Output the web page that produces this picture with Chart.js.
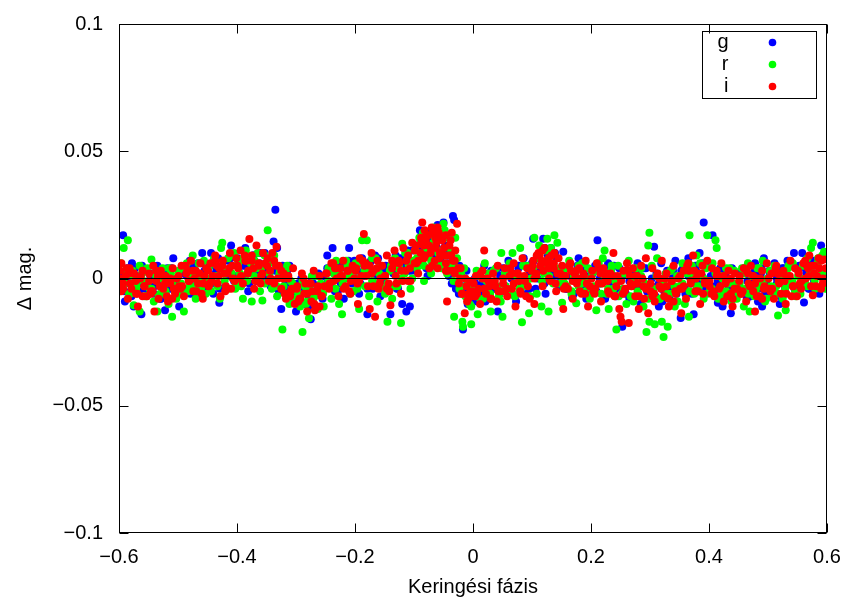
<!DOCTYPE html>
<html>
<head>
<meta charset="utf-8">
<script src="https://cdn.jsdelivr.net/npm/chart.js@4.4.1/dist/chart.umd.min.js"></script>
<style>
  html, body { margin: 0; padding: 0; background: #fff; }
  #wrap { width: 846px; height: 598px; }
</style>
</head>
<body>
<div id="wrap"><canvas id="phaseChart" width="846" height="598"></canvas></div>
<script>
// series names / colours (gnuplot style)
const seriesNames = ['g', 'r', 'i'];
const seriesColors = ['#0000ff', '#00ff00', '#ff0000'];

const xRange = [-0.6, 0.6];
const yRange = [-0.1, 0.1];
const xTickLabels = ['\u22120.6', '\u22120.4', '\u22120.2', '0', '0.2', '0.4', '0.6'];
const yTickLabels = ['\u22120.1', '\u22120.05', '0', '0.05', '0.1'];

// [phase, delta mag]: spread + outliers
const gPoints = [
  [-0.599,0.001],[-0.596,-0.003],[-0.593,0.017],[-0.590,-0.009],[-0.586,0.004],[-0.582,-0.002],[-0.578,0.006],[-0.575,-0.011],[-0.570,0.001],[-0.566,-0.005],[-0.562,-0.014],[-0.558,0.003],[-0.553,-0.002],
  [-0.549,-0.006],[-0.544,0.002],[-0.540,-0.003],[-0.535,0.005],[-0.530,-0.008],[-0.526,0.000],[-0.522,-0.0125],[-0.518,0.004],[-0.513,-0.004],[-0.508,0.008],[-0.504,-0.002],
  [-0.498,-0.011],[-0.494,0.002],[-0.489,-0.005],[-0.484,0.004],[-0.480,0.007],[-0.475,-0.003],[-0.470,0.001],[-0.466,0.006],[-0.461,-0.006],[-0.459,0.010],[-0.455,0.003],
  [-0.450,-0.002],[-0.446,0.005],[-0.444,0.010],[-0.440,-0.006],[-0.436,0.002],[-0.432,0.008],[-0.430,-0.0095],[-0.425,0.004],[-0.420,-0.003],[-0.415,0.007],[-0.410,0.013],[-0.405,0.001],
  [-0.399,0.008],[-0.395,-0.002],[-0.390,0.005],[-0.386,0.012],[-0.381,-0.005],[-0.376,0.003],[-0.372,0.009],[-0.367,-0.001],[-0.362,0.006],[-0.358,0.002],[-0.353,0.010],
  [-0.348,0.004],[-0.343,-0.003],[-0.338,0.0145],[-0.335,0.027],[-0.332,0.012],[-0.328,0.001],[-0.325,-0.012],[-0.320,-0.004],[-0.315,0.003],[-0.311,-0.008],[-0.306,-0.002],[-0.300,-0.013],
  [-0.296,-0.006],[-0.291,0.000],[-0.287,-0.010],[-0.282,-0.004],[-0.278,-0.008],[-0.275,-0.016],[-0.271,-0.002],[-0.266,-0.011],[-0.262,0.002],[-0.257,-0.006],[-0.253,0.001],
  [-0.248,-0.002],[-0.247,0.009],[-0.243,0.003],[-0.238,0.012],[-0.234,-0.005],[-0.229,0.005],[-0.224,-0.002],[-0.219,-0.008],[-0.215,0.004],[-0.210,0.012],[-0.205,0.000],[-0.201,0.007],
  [-0.197,0.003],[-0.193,-0.006],[-0.188,0.008],[-0.184,0.001],[-0.179,-0.014],[-0.175,0.006],[-0.170,-0.004],[-0.166,0.009],[-0.161,0.002],[-0.157,-0.007],[-0.152,0.004],
  [-0.148,0.005],[-0.144,-0.003],[-0.140,-0.014],[-0.135,0.002],[-0.131,0.009],[-0.127,-0.004],[-0.120,-0.010],[-0.117,0.006],[-0.113,-0.013],[-0.110,0.003],[-0.107,-0.011],[-0.103,0.011],
  [-0.098,0.003],[-0.094,0.012],[-0.090,0.019],[-0.086,0.006],[-0.082,0.014],[-0.077,0.001],[-0.073,0.010],[-0.069,0.016],[-0.065,0.005],[-0.061,0.012],[-0.057,0.008],[-0.053,0.018],
  [-0.050,0.022],[-0.047,0.013],[-0.043,0.006],[-0.039,0.010],[-0.036,-0.002],[-0.034,0.0246],[-0.032,0.023],[-0.028,0.004],[-0.024,-0.006],[-0.020,0.001],[-0.017,-0.020],[-0.013,-0.004],[-0.009,-0.010],[-0.005,-0.003],[-0.002,-0.008],
  [0.003,-0.002],[0.007,-0.009],[0.011,0.002],[0.015,-0.005],[0.019,0.005],[0.023,-0.001],[0.027,-0.008],[0.031,0.003],[0.036,-0.004],[0.042,-0.013],[0.046,0.001],
  [0.051,0.004],[0.055,-0.003],[0.060,0.007],[0.064,-0.006],[0.068,0.002],[0.073,-0.009],[0.077,0.005],[0.082,-0.002],[0.086,0.008],[0.091,-0.006],[0.096,0.002],
  [0.100,0.006],[0.102,0.0156],[0.106,-0.004],[0.110,0.009],[0.115,0.003],[0.119,0.0156],[0.123,-0.006],[0.128,0.007],[0.132,0.012],[0.137,0.001],[0.142,0.008],[0.146,-0.003],
  [0.151,0.003],[0.153,0.0105],[0.158,-0.004],[0.163,0.005],[0.168,-0.0075],[0.173,0.002],[0.179,0.008],[0.183,-0.003],[0.188,0.004],[0.192,-0.008],[0.197,0.001],
  [0.202,-0.004],[0.207,0.005],[0.211,0.015],[0.215,-0.002],[0.220,0.003],[0.224,-0.008],[0.229,0.006],[0.233,-0.003],[0.238,0.001],[0.243,-0.007],[0.248,0.004],[0.253,-0.019],
  [0.256,-0.005],[0.261,0.003],[0.265,-0.008],[0.270,0.001],[0.274,-0.003],[0.279,0.006],[0.284,-0.010],[0.288,-0.001],[0.293,0.004],[0.297,-0.006],[0.307,0.0125],
  [0.303,-0.003],[0.311,0.002],[0.315,-0.011],[0.319,0.006],[0.324,-0.005],[0.329,0.003],[0.333,-0.008],[0.338,0.000],[0.343,0.007],[0.347,-0.004],
  [0.352,-0.0155],[0.356,0.004],[0.360,-0.006],[0.365,0.008],[0.370,-0.002],[0.374,-0.014],[0.378,0.003],[0.382,-0.005],[0.384,0.010],[0.388,0.001],[0.391,0.022],[0.395,-0.004],
  [0.402,0.005],[0.406,0.017],[0.410,-0.003],[0.415,-0.0095],[0.419,0.004],[0.423,-0.011],[0.428,0.001],[0.432,-0.006],[0.437,-0.0137],[0.441,0.003],[0.446,-0.004],
  [0.451,0.002],[0.455,-0.005],[0.460,0.004],[0.464,-0.008],[0.469,0.000],[0.474,-0.003],[0.478,0.006],[0.483,-0.009],[0.488,0.002],[0.490,-0.011],[0.493,0.008],[0.497,-0.002],
  [0.502,0.003],[0.506,-0.007],[0.511,0.006],[0.515,-0.002],[0.520,-0.010],[0.524,0.004],[0.529,-0.004],[0.533,0.007],[0.538,-0.001],[0.544,0.010],[0.548,-0.006],
  [0.553,0.004],[0.558,0.010],[0.561,-0.0094],[0.565,0.002],[0.569,-0.004],[0.574,0.007],[0.578,-0.001],[0.583,0.005],[0.587,-0.006],[0.590,0.013],[0.594,0.002],[0.598,-0.003]
];
// dense core of the band
const gBand = [
  [-0.597,0.002],[-0.591,-0.005],[-0.585,0.000],[-0.579,-0.007],[-0.573,0.004],[-0.567,-0.002],[-0.561,0.005],[-0.555,-0.004],
  [-0.547,0.001],[-0.541,-0.006],[-0.535,-0.001],[-0.529,-0.008],[-0.523,0.003],[-0.517,-0.003],[-0.511,0.004],[-0.505,-0.005],
  [-0.497,0.003],[-0.491,-0.004],[-0.485,0.001],[-0.479,-0.006],[-0.473,0.005],[-0.467,-0.001],[-0.461,0.006],[-0.455,-0.003],
  [-0.447,0.005],[-0.441,-0.002],[-0.435,0.003],[-0.429,-0.004],[-0.423,0.007],[-0.417,0.001],[-0.411,0.008],[-0.405,-0.001],
  [-0.397,0.007],[-0.391,0.000],[-0.385,0.005],[-0.379,-0.002],[-0.373,0.009],[-0.367,0.003],[-0.361,0.010],[-0.355,0.001],
  [-0.347,0.007],[-0.341,-0.001],[-0.335,0.003],[-0.329,-0.005],[-0.323,0.005],[-0.317,-0.002],[-0.311,0.005],[-0.305,-0.005],
  [-0.297,-0.002],[-0.291,-0.009],[-0.285,-0.004],[-0.279,-0.011],[-0.273,0.000],[-0.267,-0.006],[-0.261,0.001],[-0.255,-0.008],
  [-0.247,0.004],[-0.241,-0.003],[-0.235,0.002],[-0.229,-0.005],[-0.223,0.006],[-0.217,0.000],[-0.211,0.007],[-0.205,-0.002],
  [-0.197,0.005],[-0.191,-0.002],[-0.185,0.003],[-0.179,-0.004],[-0.173,0.007],[-0.167,0.001],[-0.161,0.008],[-0.155,-0.001],
  [-0.147,0.003],[-0.141,-0.003],[-0.135,0.003],[-0.129,-0.004],[-0.123,0.008],[-0.117,0.003],[-0.111,0.011],[-0.105,0.003],
  [-0.097,0.013],[-0.091,0.006],[-0.085,0.011],[-0.079,0.018],[-0.079,0.004],[-0.073,0.015],[-0.067,0.009],[-0.061,0.016],[-0.060,0.021],[-0.055,0.007],
  [-0.047,0.010],[-0.044,0.017],[-0.041,0.001],[-0.035,0.005],[-0.029,-0.004],[-0.023,0.005],[-0.017,-0.003],[-0.011,0.003],[-0.005,-0.008],
  [0.003,0.000],[0.009,-0.007],[0.015,-0.002],[0.021,-0.009],[0.027,0.002],[0.033,-0.004],[0.039,0.003],[0.045,-0.006],
  [0.053,0.002],[0.059,-0.005],[0.065,0.000],[0.071,-0.007],[0.077,0.004],[0.083,-0.002],[0.089,0.005],[0.095,-0.004],
  [0.103,0.007],[0.109,0.000],[0.115,0.005],[0.121,-0.002],[0.122,0.012],[0.127,0.009],[0.133,0.003],[0.139,0.010],[0.145,0.001],
  [0.153,0.003],[0.159,-0.004],[0.165,0.001],[0.171,-0.006],[0.177,0.005],[0.183,-0.001],[0.189,0.006],[0.195,-0.003],
  [0.203,0.002],[0.209,-0.005],[0.215,0.000],[0.221,-0.007],[0.227,0.004],[0.233,-0.002],[0.239,0.005],[0.245,-0.004],
  [0.253,0.001],[0.259,-0.006],[0.265,-0.001],[0.271,-0.008],[0.277,0.003],[0.283,-0.003],[0.289,0.004],[0.295,-0.005],
  [0.303,0.000],[0.309,-0.007],[0.315,-0.002],[0.321,-0.009],[0.327,0.002],[0.333,-0.004],[0.339,0.003],[0.345,-0.006],
  [0.353,0.003],[0.359,-0.004],[0.365,0.001],[0.371,-0.006],[0.377,0.005],[0.383,-0.001],[0.389,0.006],[0.395,-0.003],
  [0.403,0.001],[0.409,-0.006],[0.415,-0.001],[0.421,-0.008],[0.427,0.003],[0.433,-0.003],[0.439,0.004],[0.445,-0.005],
  [0.453,0.002],[0.459,-0.005],[0.465,-0.001],[0.471,-0.007],[0.477,0.003],[0.483,-0.004],[0.489,0.004],[0.495,-0.006],
  [0.503,0.002],[0.509,-0.005],[0.515,0.000],[0.521,-0.007],[0.527,0.004],[0.533,-0.002],[0.539,0.005],[0.545,-0.004],
  [0.553,0.005],[0.559,-0.002],[0.565,0.003],[0.571,-0.004],[0.577,0.007],[0.583,0.001],[0.589,0.008],[0.595,-0.001]
];

const rPoints = [
  [-0.597,0.006],[-0.592,0.012],[-0.590,-0.002],[-0.585,0.015],[-0.581,-0.006],[-0.577,0.003],[-0.575,-0.0105],[-0.570,-0.003],[-0.565,-0.013],[-0.561,0.002],[-0.556,-0.007],[-0.552,0.004],
  [-0.548,-0.004],[-0.545,0.0075],[-0.541,-0.009],[-0.537,0.001],[-0.535,-0.013],[-0.530,-0.006],[-0.526,0.004],[-0.521,-0.002],[-0.516,-0.010],[-0.512,0.002],[-0.510,-0.015],[-0.505,-0.005],
  [-0.499,0.003],[-0.494,-0.006],[-0.490,-0.013],[-0.485,0.006],[-0.480,-0.003],[-0.475,0.009],[-0.470,-0.008],[-0.466,0.002],[-0.461,-0.004],[-0.456,0.007],[-0.452,-0.001],
  [-0.448,0.004],[-0.444,-0.005],[-0.439,0.008],[-0.434,0.001],[-0.429,-0.008],[-0.427,0.012],[-0.425,0.014],[-0.420,0.003],[-0.415,-0.004],[-0.410,0.009],[-0.405,0.010],[-0.402,-0.002],
  [-0.398,0.006],[-0.393,-0.003],[-0.390,-0.008],[-0.385,0.011],[-0.380,0.002],[-0.375,-0.009],[-0.370,0.007],[-0.366,0.004],[-0.361,-0.005],[-0.357,-0.0086],[-0.353,0.009],
  [-0.348,0.019],[-0.346,0.006],[-0.341,-0.004],[-0.337,0.009],[-0.332,-0.007],[-0.328,0.002],[-0.323,-0.020],[-0.319,-0.006],[-0.315,0.004],[-0.311,-0.010],[-0.306,-0.002],[-0.302,-0.008],
  [-0.298,-0.005],[-0.293,-0.011],[-0.289,-0.021],[-0.285,-0.003],[-0.281,-0.009],[-0.278,-0.0156],[-0.273,0.001],[-0.268,-0.007],[-0.263,-0.012],[-0.258,-0.002],[-0.254,-0.006],
  [-0.249,-0.003],[-0.245,0.004],[-0.240,-0.008],[-0.236,0.002],[-0.232,0.007],[-0.227,-0.010],[-0.222,-0.014],[-0.218,0.000],[-0.213,0.005],[-0.208,-0.006],[-0.203,0.003],
  [-0.199,0.006],[-0.196,-0.004],[-0.193,-0.012],[-0.188,0.015],[-0.184,0.003],[-0.180,0.015],[-0.176,-0.007],[-0.171,0.008],[-0.167,-0.002],[-0.162,-0.009],[-0.158,0.005],[-0.153,0.001],
  [-0.149,-0.006],[-0.145,-0.017],[-0.141,0.003],[-0.137,-0.008],[-0.132,0.008],[-0.128,-0.003],[-0.125,0.005],[-0.122,-0.0175],[-0.120,0.0137],[-0.116,0.002],[-0.111,0.010],[-0.106,-0.004],[-0.102,0.007],
  [-0.098,0.011],[-0.095,0.004],[-0.091,0.016],[-0.087,0.007],[-0.083,-0.001],[-0.079,0.012],[-0.075,0.009],[-0.071,0.002],[-0.067,0.014],[-0.063,0.006],[-0.059,0.011],[-0.055,0.017],[-0.052,0.005],
  [-0.050,0.0215],[-0.047,0.009],[-0.044,0.002],[-0.040,0.012],[-0.036,0.005],[-0.032,-0.015],[-0.030,0.016],[-0.027,0.008],[-0.023,-0.004],[-0.020,0.002],[-0.018,-0.017],[-0.017,-0.019],[-0.013,-0.007],[-0.009,-0.002],[-0.006,-0.010],[-0.003,-0.018],
  [0.002,-0.004],[0.006,0.003],[0.008,-0.014],[0.012,-0.008],[0.016,0.000],[0.020,0.006],[0.024,-0.005],[0.027,0.002],[0.030,-0.013],[0.035,-0.002],[0.039,0.004],[0.044,-0.007],[0.048,0.010],
  [0.050,-0.015],[0.054,0.002],[0.058,-0.004],[0.062,0.006],[0.067,0.010],[0.071,-0.007],[0.075,0.001],[0.080,0.012],[0.083,-0.0172],[0.087,-0.003],[0.091,0.005],[0.095,-0.0137],[0.098,0.000],
  [0.102,0.004],[0.104,0.016],[0.108,-0.006],[0.112,0.009],[0.116,-0.011],[0.120,0.002],[0.123,0.011],[0.126,0.0156],[0.128,-0.013],[0.132,0.006],[0.136,-0.002],[0.138,0.017],[0.143,0.014],[0.147,0.003],
  [0.151,-0.0095],[0.155,0.004],[0.159,-0.003],[0.163,0.007],[0.167,-0.006],[0.171,0.001],[0.175,-0.0097],[0.179,0.005],[0.183,-0.002],[0.187,0.006],[0.191,-0.005],[0.195,0.004],[0.198,-0.008],
  [0.202,0.002],[0.206,-0.005],[0.209,-0.0125],[0.213,0.006],[0.217,-0.002],[0.220,0.008],[0.223,0.011],[0.227,-0.006],[0.230,-0.012],[0.234,0.003],[0.238,-0.004],[0.243,-0.020],[0.246,0.005],
  [0.252,-0.006],[0.256,0.002],[0.260,-0.010],[0.264,0.007],[0.268,-0.003],[0.272,-0.009],[0.276,0.004],[0.280,-0.006],[0.285,0.001],[0.289,-0.011],[0.294,-0.021],[0.297,0.013],[0.299,0.018],[0.299,-0.017],
  [0.303,0.005],[0.306,-0.004],[0.308,-0.018],[0.312,0.008],[0.316,-0.008],[0.320,-0.017],[0.323,-0.023],[0.327,0.002],[0.330,-0.019],[0.334,-0.006],[0.338,0.004],[0.342,-0.011],[0.346,0.001],
  [0.351,-0.003],[0.355,0.006],[0.359,-0.010],[0.363,0.002],[0.366,-0.015],[0.367,0.017],[0.371,0.005],[0.375,-0.006],[0.379,0.009],[0.383,-0.003],[0.387,0.001],[0.391,-0.008],[0.395,0.004],[0.397,0.017],
  [0.402,-0.004],[0.406,0.006],[0.411,0.015],[0.413,0.012],[0.416,-0.008],[0.420,0.001],[0.425,-0.006],[0.429,0.004],[0.433,-0.002],[0.438,-0.009],[0.443,0.003],[0.447,-0.005],
  [0.452,-0.002],[0.456,0.004],[0.459,-0.011],[0.463,-0.004],[0.466,0.006],[0.469,-0.013],[0.473,0.001],[0.477,-0.007],[0.482,0.004],[0.486,-0.003],[0.491,0.007],[0.495,-0.009],[0.499,0.000],
  [0.503,0.003],[0.507,-0.006],[0.511,0.005],[0.514,-0.003],[0.517,-0.0145],[0.521,0.002],[0.525,-0.008],[0.530,-0.0125],[0.534,0.004],[0.538,-0.002],[0.542,0.006],[0.546,-0.005],
  [0.551,0.001],[0.555,-0.006],[0.559,0.005],[0.563,-0.002],[0.567,0.008],[0.571,0.003],[0.573,0.012],[0.576,0.014],[0.580,-0.004],[0.584,0.006],[0.588,0.001],[0.592,0.009],[0.595,0.0105],[0.598,0.003]
];
const rBand = [
  [-0.595,-0.003],[-0.589,0.003],[-0.583,-0.006],[-0.577,0.001],[-0.571,-0.004],[-0.565,0.005],[-0.559,-0.001],[-0.553,-0.007],
  [-0.545,-0.004],[-0.539,0.002],[-0.533,-0.007],[-0.527,0.000],[-0.521,-0.005],[-0.515,0.004],[-0.509,-0.002],[-0.503,-0.008],
  [-0.495,-0.002],[-0.489,0.004],[-0.483,-0.005],[-0.477,0.002],[-0.471,-0.003],[-0.465,0.006],[-0.459,0.000],[-0.453,-0.006],
  [-0.445,0.000],[-0.439,0.006],[-0.433,-0.003],[-0.427,0.004],[-0.421,-0.001],[-0.415,0.008],[-0.409,0.002],[-0.403,-0.004],
  [-0.395,0.002],[-0.389,0.008],[-0.383,-0.001],[-0.377,0.006],[-0.371,0.001],[-0.365,0.010],[-0.359,0.004],[-0.353,-0.002],
  [-0.345,0.002],[-0.339,0.007],[-0.333,-0.003],[-0.327,0.003],[-0.321,-0.003],[-0.315,0.005],[-0.309,-0.001],[-0.303,-0.008],
  [-0.295,-0.007],[-0.289,-0.001],[-0.283,-0.010],[-0.277,-0.003],[-0.271,-0.008],[-0.265,0.001],[-0.259,-0.005],[-0.253,-0.011],
  [-0.245,-0.001],[-0.239,0.005],[-0.233,-0.004],[-0.227,0.003],[-0.221,-0.002],[-0.215,0.007],[-0.209,0.001],[-0.203,-0.005],
  [-0.195,0.000],[-0.189,0.006],[-0.183,-0.003],[-0.177,0.004],[-0.171,-0.001],[-0.165,0.008],[-0.159,0.002],[-0.153,-0.004],
  [-0.145,-0.002],[-0.139,0.005],[-0.133,-0.003],[-0.127,0.004],[-0.121,0.000],[-0.115,0.010],[-0.109,0.005],[-0.103,0.000],
  [-0.095,0.008],[-0.089,0.014],[-0.085,0.018],[-0.083,0.005],[-0.077,0.012],[-0.071,0.007],[-0.066,0.020],[-0.065,0.016],[-0.059,0.010],[-0.053,0.004],
  [-0.048,0.019],[-0.045,0.005],[-0.042,0.016],[-0.039,0.009],[-0.033,-0.001],[-0.027,0.004],[-0.021,-0.003],[-0.015,0.004],[-0.009,-0.003],[-0.003,-0.011],
  [0.005,-0.005],[0.011,0.001],[0.017,-0.008],[0.023,-0.001],[0.029,-0.006],[0.035,0.003],[0.041,-0.003],[0.047,-0.009],
  [0.055,-0.003],[0.061,0.003],[0.067,-0.006],[0.073,0.001],[0.079,-0.004],[0.085,0.005],[0.091,-0.001],[0.097,-0.007],
  [0.105,0.002],[0.111,0.008],[0.112,0.013],[0.117,-0.001],[0.123,0.006],[0.129,0.001],[0.132,0.012],[0.135,0.010],[0.141,0.004],[0.147,-0.002],
  [0.155,-0.002],[0.161,0.004],[0.167,-0.005],[0.173,0.002],[0.179,-0.003],[0.185,0.006],[0.191,0.000],[0.197,-0.006],
  [0.205,-0.003],[0.211,0.003],[0.217,-0.006],[0.223,0.001],[0.229,-0.004],[0.235,0.005],[0.241,-0.001],[0.247,-0.007],
  [0.255,-0.004],[0.261,0.002],[0.267,-0.007],[0.273,0.000],[0.279,-0.005],[0.285,0.004],[0.291,-0.002],[0.297,-0.008],
  [0.305,-0.005],[0.311,0.001],[0.317,-0.008],[0.323,-0.001],[0.329,-0.006],[0.335,0.003],[0.341,-0.003],[0.347,-0.009],
  [0.355,-0.002],[0.361,0.004],[0.367,-0.005],[0.373,0.002],[0.379,-0.003],[0.385,0.006],[0.391,0.000],[0.397,-0.006],
  [0.405,-0.004],[0.411,0.002],[0.417,-0.007],[0.423,0.000],[0.429,-0.005],[0.435,0.004],[0.441,-0.002],[0.447,-0.008],
  [0.455,-0.004],[0.461,0.002],[0.467,-0.006],[0.473,0.001],[0.479,-0.005],[0.485,0.004],[0.491,-0.002],[0.497,-0.008],
  [0.505,-0.003],[0.511,0.003],[0.517,-0.006],[0.523,0.001],[0.529,-0.004],[0.535,0.005],[0.541,-0.001],[0.547,-0.007],
  [0.555,0.000],[0.561,0.006],[0.567,-0.003],[0.573,0.004],[0.579,-0.001],[0.585,0.008],[0.591,0.002],[0.597,-0.004]
];

const iPoints = [
  [-0.598,0.003],[-0.596,0.006],[-0.593,-0.002],[-0.589,0.001],[-0.585,-0.008],[-0.582,0.004],[-0.579,-0.004],[-0.575,0.002],[-0.571,-0.006],[-0.568,-0.011],[-0.564,0.000],[-0.560,0.003],[-0.557,-0.003],[-0.553,-0.007],
  [-0.549,0.002],[-0.546,-0.005],[-0.542,0.005],[-0.540,-0.013],[-0.537,-0.001],[-0.533,-0.008],[-0.529,0.003],[-0.525,-0.004],[-0.521,0.001],[-0.517,-0.009],[-0.513,-0.002],[-0.509,0.004],[-0.505,-0.006],[-0.502,0.000],
  [-0.498,-0.003],[-0.494,0.005],[-0.490,-0.007],[-0.486,0.002],[-0.482,-0.001],[-0.478,0.007],[-0.474,-0.005],[-0.470,0.003],[-0.466,-0.002],[-0.462,0.006],[-0.458,-0.008],[-0.455,0.001],[-0.452,0.004],
  [-0.448,-0.003],[-0.445,0.006],[-0.441,0.001],[-0.437,0.009],[-0.433,-0.002],[-0.430,0.004],[-0.428,-0.007],[-0.424,0.007],[-0.420,-0.005],[-0.416,0.002],[-0.412,0.010],[-0.408,0.005],[-0.404,-0.001],[-0.401,0.008],
  [-0.398,0.004],[-0.394,0.011],[-0.390,-0.002],[-0.386,0.007],[-0.382,0.002],[-0.379,0.0155],[-0.375,0.009],[-0.371,-0.004],[-0.367,0.013],[-0.363,0.005],[-0.359,0.001],[-0.356,0.010],[-0.352,0.006],
  [-0.348,0.008],[-0.344,0.003],[-0.340,0.010],[-0.337,-0.002],[-0.333,0.0125],[-0.329,0.005],[-0.325,-0.004],[-0.321,0.002],[-0.317,-0.008],[-0.313,0.000],[-0.309,-0.005],[-0.305,0.004],[-0.302,-0.010],
  [-0.298,-0.003],[-0.294,-0.008],[-0.290,0.002],[-0.286,-0.006],[-0.281,-0.013],[-0.278,-0.002],[-0.274,-0.009],[-0.270,0.003],[-0.268,-0.0125],[-0.264,-0.005],[-0.260,0.001],[-0.256,-0.007],[-0.252,-0.003],
  [-0.248,0.002],[-0.244,-0.004],[-0.240,0.006],[-0.236,-0.001],[-0.232,0.004],[-0.228,-0.007],[-0.224,0.001],[-0.220,0.007],[-0.216,-0.003],[-0.212,0.003],[-0.208,-0.006],[-0.204,0.005],[-0.201,0.000],
  [-0.198,0.004],[-0.195,-0.010],[-0.192,0.008],[-0.189,0.001],[-0.185,0.0175],[-0.182,0.006],[-0.178,-0.003],[-0.175,-0.012],[-0.172,0.010],[-0.169,0.003],[-0.166,-0.015],[-0.162,0.007],[-0.158,-0.002],[-0.154,0.005],
  [-0.149,0.001],[-0.146,0.009],[-0.142,-0.005],[-0.140,-0.0105],[-0.137,0.004],[-0.133,0.011],[-0.130,-0.002],[-0.126,0.007],[-0.122,-0.006],[-0.118,0.012],[-0.114,0.003],[-0.110,0.009],[-0.106,-0.001],[-0.103,0.014],
  [-0.099,0.006],[-0.096,0.013],[-0.093,0.002],[-0.089,0.010],[-0.086,0.022],[-0.083,0.008],[-0.080,0.015],[-0.078,0.017],[-0.074,0.004],[-0.071,0.012],[-0.068,0.018],[-0.065,0.007],[-0.062,0.014],[-0.060,0.020],[-0.056,0.010],[-0.053,0.016],
  [-0.049,0.012],[-0.046,0.006],[-0.044,-0.009],[-0.041,0.009],[-0.038,0.015],[-0.035,0.003],[-0.031,0.007],[-0.027,0.0215],[-0.024,-0.002],[-0.021,0.004],[-0.018,-0.006],[-0.014,-0.0137],[-0.011,-0.003],[-0.008,-0.008],[-0.005,-0.001],[-0.002,-0.005],
  [0.002,-0.007],[0.005,0.001],[0.009,-0.004],[0.012,-0.010],[0.016,0.003],[0.019,0.011],[0.022,-0.006],[0.026,-0.001],[0.030,-0.008],[0.034,0.002],[0.038,-0.003],[0.042,0.005],[0.046,-0.005],
  [0.051,-0.002],[0.054,0.004],[0.058,-0.007],[0.062,0.001],[0.066,-0.004],[0.069,0.006],[0.072,-0.011],[0.076,0.002],[0.080,-0.005],[0.084,0.008],[0.088,-0.001],[0.092,0.004],[0.096,-0.008],[0.099,0.003],
  [0.102,0.007],[0.104,-0.010],[0.107,0.002],[0.111,0.010],[0.114,0.005],[0.118,-0.003],[0.121,0.012],[0.125,0.006],[0.129,0.000],[0.133,0.009],[0.137,0.004],[0.141,-0.005],[0.145,0.008],[0.148,0.002],
  [0.151,0.005],[0.153,-0.012],[0.157,0.001],[0.161,-0.004],[0.165,0.006],[0.169,-0.008],[0.172,0.002],[0.176,-0.002],[0.180,0.004],[0.184,-0.006],[0.188,0.001],[0.191,0.007],[0.195,-0.011],[0.198,-0.003],
  [0.202,0.003],[0.206,-0.006],[0.210,0.006],[0.213,-0.002],[0.217,-0.009],[0.221,0.004],[0.225,0.000],[0.229,-0.005],[0.233,0.002],[0.238,0.010],[0.241,-0.007],[0.245,0.001],[0.248,-0.012],[0.250,-0.015],
  [0.252,-0.017],[0.255,0.003],[0.258,-0.004],[0.261,0.006],[0.264,-0.0175],[0.267,-0.002],[0.271,0.004],[0.275,-0.007],[0.278,0.001],[0.281,-0.012],[0.285,0.005],[0.289,-0.003],[0.293,0.008],[0.297,-0.0137],
  [0.301,-0.005],[0.304,0.004],[0.308,-0.009],[0.312,0.001],[0.316,-0.003],[0.320,0.007],[0.324,-0.007],[0.328,0.002],[0.332,-0.011],[0.336,-0.001],[0.340,0.005],[0.344,-0.006],[0.348,0.000],
  [0.351,-0.004],[0.353,-0.0137],[0.357,0.003],[0.361,-0.008],[0.365,0.006],[0.369,-0.002],[0.373,0.009],[0.377,-0.005],[0.381,0.002],[0.385,-0.010],[0.389,0.005],[0.393,-0.001],[0.397,0.007],
  [0.401,-0.003],[0.405,0.004],[0.409,-0.007],[0.413,0.001],[0.417,-0.004],[0.421,0.006],[0.425,-0.009],[0.429,-0.001],[0.433,0.003],[0.437,-0.006],[0.440,-0.011],[0.444,0.002],[0.448,-0.004],
  [0.452,0.001],[0.455,-0.006],[0.459,0.004],[0.463,-0.009],[0.467,-0.002],[0.471,0.005],[0.475,-0.005],[0.478,-0.013],[0.482,0.000],[0.486,-0.007],[0.490,0.003],[0.494,-0.003],[0.498,0.006],
  [0.502,-0.004],[0.506,0.002],[0.510,-0.008],[0.514,0.005],[0.518,-0.001],[0.522,-0.006],[0.526,0.003],[0.530,-0.010],[0.534,0.001],[0.538,0.007],[0.542,-0.003],[0.546,0.004],[0.549,-0.007],
  [0.552,0.002],[0.556,-0.004],[0.560,0.006],[0.564,0.000],[0.568,0.004],[0.570,0.009],[0.573,-0.003],[0.576,-0.0066],[0.579,0.005],[0.583,0.001],[0.586,0.008],[0.590,0.007],[0.593,-0.002],[0.595,0.0075],[0.598,0.004]
];
const iBand = [
  [-0.599,0.000],[-0.593,-0.004],[-0.587,0.004],[-0.581,-0.002],[-0.575,0.002],[-0.569,-0.006],[-0.563,0.001],[-0.557,-0.003],[-0.596,-0.005],[-0.584,0.002],[-0.572,-0.001],[-0.560,-0.007],
  [-0.549,-0.001],[-0.543,-0.005],[-0.537,0.003],[-0.531,-0.003],[-0.525,0.001],[-0.519,-0.007],[-0.513,0.000],[-0.507,-0.004],[-0.546,-0.006],[-0.534,0.001],[-0.522,-0.002],[-0.510,-0.008],
  [-0.499,0.001],[-0.493,-0.003],[-0.487,0.005],[-0.481,-0.001],[-0.475,0.003],[-0.469,-0.005],[-0.463,0.002],[-0.457,-0.002],[-0.496,-0.004],[-0.484,0.003],[-0.472,0.000],[-0.460,-0.006],
  [-0.449,0.003],[-0.443,-0.001],[-0.437,0.007],[-0.431,0.001],[-0.425,0.005],[-0.419,-0.003],[-0.413,0.004],[-0.407,0.000],[-0.446,-0.002],[-0.434,0.005],[-0.422,0.002],[-0.410,-0.004],
  [-0.399,0.005],[-0.393,0.001],[-0.387,0.009],[-0.381,0.003],[-0.375,0.007],[-0.369,-0.001],[-0.363,0.006],[-0.357,0.002],[-0.396,0.000],[-0.384,0.007],[-0.372,0.004],[-0.360,-0.002],
  [-0.349,0.005],[-0.343,0.000],[-0.337,0.007],[-0.331,0.000],[-0.325,0.003],[-0.319,-0.006],[-0.313,0.001],[-0.307,-0.004],[-0.346,-0.001],[-0.334,0.005],[-0.322,0.000],[-0.310,-0.007],
  [-0.299,-0.004],[-0.293,-0.008],[-0.287,0.000],[-0.281,-0.006],[-0.275,-0.002],[-0.269,-0.010],[-0.263,-0.003],[-0.257,-0.007],[-0.296,-0.009],[-0.284,-0.002],[-0.272,-0.005],[-0.260,-0.011],
  [-0.249,0.002],[-0.243,-0.002],[-0.237,0.006],[-0.231,0.000],[-0.225,0.004],[-0.219,-0.004],[-0.213,0.003],[-0.207,-0.001],[-0.246,-0.003],[-0.234,0.004],[-0.222,0.001],[-0.210,-0.005],
  [-0.199,0.003],[-0.193,-0.001],[-0.187,0.007],[-0.181,0.001],[-0.175,0.005],[-0.169,-0.003],[-0.163,0.004],[-0.157,0.000],[-0.196,-0.002],[-0.184,0.005],[-0.172,0.002],[-0.160,-0.004],
  [-0.149,0.001],[-0.143,-0.002],[-0.137,0.007],[-0.131,0.001],[-0.125,0.006],[-0.119,-0.001],[-0.113,0.007],[-0.107,0.004],[-0.146,-0.004],[-0.134,0.006],[-0.122,0.003],[-0.110,-0.001],
  [-0.099,0.011],[-0.093,0.007],[-0.087,0.015],[-0.081,0.009],[-0.075,0.013],[-0.069,0.005],[-0.063,0.012],[-0.057,0.008],[-0.096,0.006],[-0.084,0.013],[-0.072,0.010],[-0.060,0.004],
  [-0.088,0.016],[-0.082,0.019],[-0.076,0.017],[-0.070,0.020],[-0.064,0.016],[-0.058,0.018],[-0.052,0.015],
  [-0.049,0.009],[-0.043,0.003],[-0.037,0.009],[-0.031,0.002],[-0.025,0.004],[-0.019,-0.006],[-0.013,0.000],[-0.007,-0.006],[-0.046,0.003],[-0.034,0.007],[-0.022,0.000],[-0.010,-0.009],
  [-0.046,0.017],[-0.040,0.013],[-0.036,0.018],[-0.030,0.011],
  [0.001,-0.002],[0.007,-0.006],[0.013,0.002],[0.019,-0.004],[0.025,0.000],[0.031,-0.008],[0.037,-0.001],[0.043,-0.005],[0.004,-0.007],[0.016,0.000],[0.028,-0.003],[0.040,-0.009],
  [0.051,0.000],[0.057,-0.004],[0.063,0.004],[0.069,-0.002],[0.075,0.002],[0.081,-0.006],[0.087,0.001],[0.093,-0.003],[0.054,-0.005],[0.066,0.002],[0.078,-0.001],[0.090,-0.007],
  [0.101,0.005],[0.107,0.001],[0.113,0.009],[0.119,0.003],[0.125,0.007],[0.131,-0.001],[0.137,0.006],[0.143,0.002],[0.104,0.000],[0.116,0.007],[0.128,0.004],[0.140,-0.002],
  [0.108,0.009],[0.118,0.011],[0.128,0.008],[0.138,0.010],
  [0.151,0.001],[0.157,-0.003],[0.163,0.005],[0.169,-0.001],[0.175,0.003],[0.181,-0.005],[0.187,0.002],[0.193,-0.002],[0.154,-0.004],[0.166,0.003],[0.178,0.000],[0.190,-0.006],
  [0.201,0.000],[0.207,-0.004],[0.213,0.004],[0.219,-0.002],[0.225,0.002],[0.231,-0.006],[0.237,0.001],[0.243,-0.003],[0.204,-0.005],[0.216,0.002],[0.228,-0.001],[0.240,-0.007],
  [0.251,-0.001],[0.257,-0.005],[0.263,0.003],[0.269,-0.003],[0.275,0.001],[0.281,-0.007],[0.287,0.000],[0.293,-0.004],[0.254,-0.006],[0.266,0.001],[0.278,-0.002],[0.290,-0.008],
  [0.301,-0.002],[0.307,-0.006],[0.313,0.002],[0.319,-0.004],[0.325,0.000],[0.331,-0.008],[0.337,-0.001],[0.343,-0.005],[0.304,-0.007],[0.316,0.000],[0.328,-0.003],[0.340,-0.009],
  [0.351,0.001],[0.357,-0.003],[0.363,0.005],[0.369,-0.001],[0.375,0.003],[0.381,-0.005],[0.387,0.002],[0.393,-0.002],[0.354,-0.004],[0.366,0.003],[0.378,0.000],[0.390,-0.006],
  [0.401,-0.001],[0.407,-0.005],[0.413,0.003],[0.419,-0.003],[0.425,0.001],[0.431,-0.007],[0.437,0.000],[0.443,-0.004],[0.404,-0.006],[0.416,0.001],[0.428,-0.002],[0.440,-0.008],
  [0.451,-0.001],[0.457,-0.005],[0.463,0.003],[0.469,-0.003],[0.475,0.001],[0.481,-0.007],[0.487,0.000],[0.493,-0.004],[0.454,-0.006],[0.466,0.002],[0.478,-0.002],[0.490,-0.008],
  [0.501,0.000],[0.507,-0.004],[0.513,0.004],[0.519,-0.002],[0.525,0.002],[0.531,-0.006],[0.537,0.001],[0.543,-0.003],[0.504,-0.005],[0.516,0.002],[0.528,-0.001],[0.540,-0.007],
  [0.551,0.003],[0.557,-0.001],[0.563,0.007],[0.569,0.001],[0.575,0.005],[0.581,-0.003],[0.587,0.004],[0.593,0.000],[0.554,-0.002],[0.566,0.005],[0.578,0.002],[0.590,-0.004]
];

const seriesPoints = [gPoints.concat(gBand), rPoints.concat(rBand), iPoints.concat(iBand)];

Chart.defaults.font.family = '"Liberation Sans", Arial, Helvetica, sans-serif';
Chart.defaults.font.size = 20;
Chart.defaults.color = '#000';

const toXY = pts => pts.map(p => ({ x: p[0], y: p[1] }));

// red drawn on top, then green, then blue (like the reference)
const datasets = seriesNames.map((name, k) => ({
  label: name,
  data: toXY(seriesPoints[k]),
  backgroundColor: seriesColors[k],
  borderWidth: 0,
  pointRadius: 4,
  pointHoverRadius: 4,
  order: 2 - k
}));

// zero reference line
datasets.push({
  label: 'zero',
  type: 'line',
  data: [{ x: xRange[0], y: 0 }, { x: xRange[1], y: 0 }],
  borderColor: '#000',
  borderWidth: 1.2,
  pointRadius: 0,
  fill: false,
  order: -1
});

// frame, inward ticks on all four sides, and a gnuplot-like key box
const framePlugin = {
  id: 'frame',
  afterDraw(chart) {
    const { ctx, chartArea: a, scales } = chart;
    const L = Math.round(a.left) + 0.5, R = Math.round(a.right) - 0.5;
    const T = Math.round(a.top) + 0.5, B = Math.round(a.bottom) - 0.5;
    const len = 9;
    ctx.save();
    ctx.strokeStyle = '#000';
    ctx.lineWidth = 1;
    ctx.strokeRect(L, T, R - L, B - T);
    ctx.beginPath();
    scales.x.ticks.forEach(t => {
      const px = Math.round(scales.x.getPixelForValue(t.value)) + 0.5;
      ctx.moveTo(px, B); ctx.lineTo(px, B - len);
      ctx.moveTo(px, T); ctx.lineTo(px, T + len);
    });
    scales.y.ticks.forEach(t => {
      const py = Math.round(scales.y.getPixelForValue(t.value)) + 0.5;
      ctx.moveTo(L, py); ctx.lineTo(L + len, py);
      ctx.moveTo(R, py); ctx.lineTo(R - len, py);
    });
    ctx.stroke();

    // key
    const kx = Math.round(a.right) - 125 + 0.5, ky = Math.round(a.top) + 7 + 0.5;
    ctx.strokeRect(kx, ky, 114, 67);
    ctx.font = '20px "Liberation Sans", Arial, sans-serif';
    ctx.textAlign = 'right';
    ctx.textBaseline = 'middle';
    seriesNames.forEach((name, k) => {
      const cy = ky + 11 + k * 22;
      ctx.fillStyle = '#000';
      ctx.fillText(name, kx + 26, cy);
      ctx.fillStyle = seriesColors[k];
      ctx.beginPath();
      ctx.arc(kx + 70, cy, 3.8, 0, Math.PI * 2);
      ctx.fill();
    });
    ctx.restore();
  }
};

new Chart(document.getElementById('phaseChart'), {
  type: 'scatter',
  data: { datasets },
  options: {
    responsive: false,
    animation: false,
    devicePixelRatio: 1,
    layout: { autoPadding: false, padding: { left: 0, right: 19, top: 24, bottom: 0 } },
    plugins: {
      legend: { display: false },
      tooltip: { enabled: false }
    },
    scales: {
      x: {
        type: 'linear',
        min: xRange[0],
        max: xRange[1],
        afterFit: s => { s.height = 65; s.paddingLeft = 0; s.paddingRight = 0; },
        grid: { display: false, drawTicks: false },
        border: { display: false },
        ticks: {
          stepSize: 0.2,
          padding: 12,
          maxRotation: 0,
          autoSkip: false,
          callback: (v, i) => xTickLabels[i]
        },
        title: { display: true, text: 'Keringési fázis', padding: { top: 0, bottom: -1 }, font: { size: 20 } }
      },
      y: {
        type: 'linear',
        min: yRange[0],
        max: yRange[1],
        afterFit: s => { s.width = 119; s.paddingTop = 0; s.paddingBottom = 0; },
        grid: { display: false, drawTicks: false },
        border: { display: false },
        ticks: {
          stepSize: 0.05,
          padding: 16,
          autoSkip: false,
          callback: (v, i) => yTickLabels[i]
        },
        title: { display: true, text: 'Δ mag.', padding: { top: 13, bottom: 0 }, font: { size: 20 } }
      }
    }
  },
  plugins: [framePlugin]
});
</script>
</body>
</html>
